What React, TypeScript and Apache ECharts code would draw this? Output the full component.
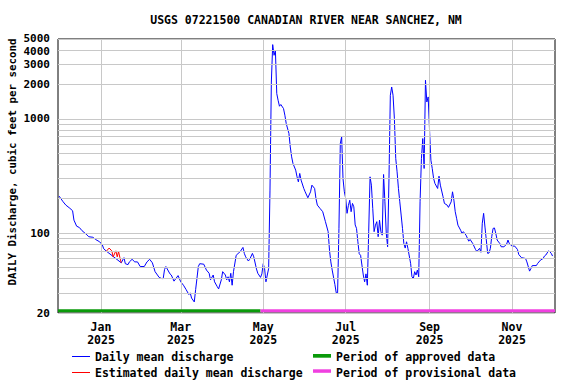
import React, { useEffect, useRef } from "react";
import * as echarts from "echarts";

// Days are counted from 2025-01-01 (negative = December 2024)
const dischargeDays: number[] = [
  -31, -28, -26, -23, -21, -20, -18, -16, -14, -11, -9, -6, -4, -1, 1, 2, 4,
  15, 17, 18, 20, 21, 23, 25, 27, 29, 32, 34, 36, 38, 40, 43, 45, 46, 47, 48,
  51, 52, 54, 57, 59, 61, 63, 65, 66, 67, 69, 70, 72, 73, 76, 78, 80, 81, 83,
  84, 86, 87, 89, 90, 92, 93, 94, 95, 96, 97, 98, 100, 103, 105, 106, 107, 109,
  110, 112, 113, 115, 116, 118, 119, 120, 121, 122, 123, 124, 125, 126, 127,
  128, 129, 130, 131, 132, 133, 135, 136, 137, 139, 140, 141, 142, 144, 145,
  146, 147, 148, 150, 151, 153, 155, 156, 158, 159, 160, 162, 164, 166, 168,
  169, 170, 171, 173, 174, 175, 176, 177, 178, 179, 180, 181, 182, 183, 184,
  185, 186, 187, 188, 189, 190, 191, 192, 194, 195, 196, 197, 198, 199, 200,
  201, 202, 203, 204, 205, 206, 207, 208, 209, 210, 211, 212, 213, 214, 215,
  216, 217, 218, 219, 220, 221, 222, 223, 224, 225, 226, 227, 229, 230, 231,
  232, 233, 234, 235, 236, 237, 238, 239, 240, 241, 242, 243, 244, 245, 246,
  247, 249, 250, 251, 253, 254, 256, 257, 259, 260, 261, 262, 263, 264, 266,
  267, 268, 270, 272, 273, 275, 277, 278, 280, 281, 282, 283, 284, 285, 286,
  287, 288, 289, 290, 291, 292, 293, 295, 296, 298, 300, 301, 302, 304, 306,
  308, 309, 311, 314, 315, 317, 318, 319, 322, 323, 325, 327, 328, 329, 331,
  332, 333, 334,
];
const dischargeValues: number[] = [
  211, 188, 176, 165, 157, 130, 115, 112, 105, 98, 93, 92, 88, 84, 79, 73, 69.5,
  55, 61, 54, 53, 56, 59, 56, 56, 51, 51, 56, 59, 55, 46, 41, 40, 40, 48, 51,
  44, 43, 38, 42.5, 37.5, 35, 32, 29, 30, 27, 25, 32, 51, 54, 53.5, 47.5, 44.5, 39, 43,
  37.5, 34, 32.5, 39, 46, 43, 39, 41.5, 37.5, 44.5, 35, 46, 64, 69, 75, 66.5, 62, 57,
  59, 66.5, 62, 48.5, 44.5, 41, 44, 54, 49, 37.5, 43, 49, 238, 2100, 4465,
  3600, 3980, 1665, 1455, 1290, 1335, 1231, 1077, 910, 745, 568, 465, 407, 356, 311,
  281, 333, 291, 246, 230, 204, 230, 263, 246, 201, 176, 164.5, 154, 126, 103,
  71, 56, 47.5, 35.5, 30, 30, 110, 609, 696, 300, 230, 201, 149, 175, 194,
  154, 182, 170, 118, 110, 84, 66, 64, 43, 37.5, 44, 35, 103, 311, 263,
  164, 103, 117.5, 126, 93, 130, 103, 96, 326, 188, 99.5, 76, 301, 1609, 1901,
  1609, 1007, 450, 344, 246, 188, 144, 110, 81, 74, 84, 73.6, 54.4, 41.5, 40,
  46, 43, 47.5, 41.5, 188, 450, 673, 368, 2177, 1406, 1556, 800, 435, 368, 301,
  272, 246, 315, 263, 208, 182, 176, 168, 188, 230, 194.5, 154, 135, 117.5, 106,
  99.5, 103, 96, 85, 88, 81, 72, 69, 73.6, 68, 122, 149, 113, 87, 66.5,
  67, 73.6, 93, 110, 111, 99.5, 87, 81, 76, 76, 80, 87, 81, 77, 77,
  72, 65, 61, 60, 56, 46.5, 49, 52, 52, 54.4, 58, 60, 63, 64.3, 70,
  68.7, 66.5, 63,
];

const estimatedDays: number[] = [4, 6, 8, 9, 11, 12, 13, 14, 15];
const estimatedValues: number[] = [69.5, 74, 70, 62, 70, 62, 69, 61, 55];

const monthTicks: string[] = ["2025-01-01", "2025-03-01", "2025-05-01", "2025-07-01", "2025-09-01", "2025-11-01"];
const monthNames: string[] = ["Jan", "Feb", "Mar", "Apr", "May", "Jun", "Jul", "Aug", "Sep", "Oct", "Nov", "Dec"];

const yGridValues: number[] = [20, 30, 40, 50, 60, 70, 80, 90, 100, 200, 300, 400, 500, 600, 700, 800, 900, 1000, 2000, 3000, 4000, 5000];
const yLabelValues: number[] = [20, 100, 1000, 2000, 3000, 4000, 5000];

const periodNames: string[] = ["approved", "provisional"];
const periodStarts: string[] = ["2024-11-30T05:00:00Z", "2025-04-29T00:00:00Z"];
const periodEnds: string[] = ["2025-04-29T00:00:00Z", "2025-12-02T19:00:00Z"];
const periodColors: string[] = ["#0a9a0a", "#f040e0"];

const axisMin = "2024-11-30T05:00:00Z";
const axisMax = "2025-12-02T19:00:00Z";

const DAY = 86400000;
const BASE = Date.UTC(2025, 0, 1);
const FONT = "'DejaVu Sans Mono', monospace";

export default function App() {
  const ref = useRef<HTMLDivElement>(null);
  useEffect(() => {
    if (!ref.current) return;
    const chart = echarts.init(ref.current, undefined, { renderer: "svg" });
    const mainData = dischargeDays.map((d, i) => [BASE + d * DAY, dischargeValues[i]]);
    const estData = estimatedDays.map((d, i) => [BASE + d * DAY, estimatedValues[i]]);
    const periodData = periodNames.map((n, i) => ({
      name: n,
      value: [Date.parse(periodStarts[i]), Date.parse(periodEnds[i]), 20],
      itemStyle: { color: periodColors[i] },
    }));
    const maxLabel = yLabelValues[yLabelValues.length - 1];
    const nextLabel = yLabelValues[yLabelValues.length - 2];

    const option: any = {
      animation: false,
      grid: { left: 58, right: 21, top: 39, bottom: 71, show: true, borderColor: "#000", borderWidth: 1, backgroundColor: "transparent" },
      xAxis: {
        type: "time",
        min: Date.parse(axisMin),
        max: Date.parse(axisMax),
        axisLabel: { show: false },
        axisTick: { show: false },
        axisLine: { show: false },
        splitLine: { show: false },
      },
      yAxis: {
        type: "log",
        logBase: 10,
        min: 20,
        max: 5000,
        axisLabel: { show: false },
        axisTick: { show: false },
        axisLine: { show: false },
        splitLine: { show: false },
        minorSplitLine: { show: false },
      },
      series: [
        {
          type: "line",
          data: [],
          silent: true,
          z: 1,
          markLine: {
            silent: true,
            symbol: "none",
            animation: false,
            lineStyle: { color: "#c8c8c8", width: 1, type: "solid" },
            emphasis: { disabled: true },
            data: [
              ...yGridValues.map((v) => ({
                yAxis: v,
                label: {
                  show: yLabelValues.includes(v),
                  position: "start",
                  distance: 8,
                  formatter: String(v),
                  color: "#000",
                  fontFamily: FONT,
                  fontWeight: "bold",
                  fontSize: 11,
                  lineHeight: 9,
                  offset: v === maxLabel ? [0, -1] : v === nextLabel ? [0, 1.5] : [0, 0],
                },
              })),
              ...monthTicks.map((t) => {
                const dt = new Date(t + "T00:00:00Z");
                return {
                  xAxis: dt.getTime(),
                  label: {
                    show: true,
                    position: "start",
                    distance: 7,
                    formatter: monthNames[dt.getUTCMonth()] + "\n" + dt.getUTCFullYear(),
                    color: "#000",
                    fontFamily: FONT,
                    fontWeight: "bold",
                    fontSize: 11.5,
                    lineHeight: 13.5,
                    align: "center",
                  },
                };
              }),
            ],
          },
        },
        {
          type: "line",
          name: "Daily mean discharge",
          data: mainData,
          showSymbol: false,
          symbol: "none",
          z: 3,
          lineStyle: { color: "#0000ff", width: 1 },
          itemStyle: { color: "#0000ff" },
        },
        {
          type: "line",
          name: "Estimated daily mean discharge",
          data: estData,
          showSymbol: false,
          symbol: "none",
          z: 4,
          lineStyle: { color: "#ff0000", width: 1 },
          itemStyle: { color: "#ff0000" },
        },
        {
          type: "custom",
          z: 5,
          silent: true,
          encode: { x: [0, 1], y: 2 },
          data: periodData,
          renderItem: (params: any, api: any) => {
            const a = api.coord([api.value(0), api.value(2)]);
            const b = api.coord([api.value(1), api.value(2)]);
            return {
              type: "rect",
              shape: { x: a[0], y: a[1] - 3.7, width: b[0] - a[0], height: 3 },
              style: { fill: api.visual("color") },
            };
          },
        },
      ],
      graphic: [
        {
          type: "text",
          x: 306,
          y: 19.5,
          style: {
            text: "USGS 07221500 CANADIAN RIVER NEAR SANCHEZ, NM",
            fill: "#000",
            font: `bold 11.5px ${FONT}`,
            textAlign: "center",
            textVerticalAlign: "middle",
          },
        },
        {
          type: "text",
          x: 12,
          y: 162,
          rotation: Math.PI / 2,
          style: {
            text: "DAILY Discharge, cubic feet per second",
            fill: "#000",
            font: `bold 10.8px ${FONT}`,
            textAlign: "center",
            textVerticalAlign: "middle",
          },
        },
        { type: "line", shape: { x1: 72, y1: 356.5, x2: 90, y2: 356.5 }, style: { stroke: "#0000ff", lineWidth: 1 } },
        { type: "line", shape: { x1: 72, y1: 372.5, x2: 90, y2: 372.5 }, style: { stroke: "#ff0000", lineWidth: 1 } },
        { type: "rect", shape: { x: 313, y: 354, width: 18, height: 3.7 }, style: { fill: periodColors[0] } },
        { type: "rect", shape: { x: 313, y: 369.3, width: 18, height: 3.5 }, style: { fill: periodColors[1] } },
        { type: "text", x: 95, y: 357, style: { text: "Daily mean discharge", fill: "#000", font: `bold 11.5px ${FONT}`, textVerticalAlign: "middle" } },
        { type: "text", x: 95, y: 372.5, style: { text: "Estimated daily mean discharge", fill: "#000", font: `bold 11.5px ${FONT}`, textVerticalAlign: "middle" } },
        { type: "text", x: 336, y: 357, style: { text: "Period of approved data", fill: "#000", font: `bold 11.5px ${FONT}`, textVerticalAlign: "middle" } },
        { type: "text", x: 336, y: 372.5, style: { text: "Period of provisional data", fill: "#000", font: `bold 11.5px ${FONT}`, textVerticalAlign: "middle" } },
      ],
    };
    chart.setOption(option);
    return () => chart.dispose();
  }, []);
  return <div ref={ref} style={{ width: 576, height: 384, position: "absolute", left: 0, top: 0 }} />;
}
